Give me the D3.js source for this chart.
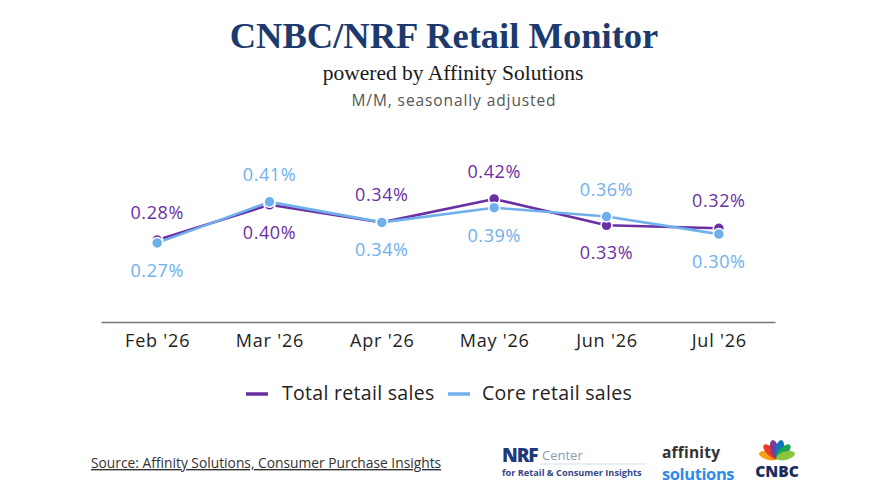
<!DOCTYPE html>
<html><head><meta charset="utf-8">
<script src="https://cdn.jsdelivr.net/npm/d3@7"></script>
<style>
html,body{margin:0;padding:0;background:#fff;}
svg{display:block;}
</style></head>
<body>
<svg id="chart" width="875" height="500"></svg>
<script>
const months = ["Feb '26","Mar '26","Apr '26","May '26","Jun '26","Jul '26"];
const totalSales = [0.28,0.40,0.34,0.42,0.33,0.32];
const coreSales = [0.27,0.41,0.34,0.39,0.36,0.30];
// label placement: 1 = above, -1 = below
const totalLabelPos = [1,-1,1,1,-1,1];
const coreLabelPos = [-1,1,-1,-1,1,-1];
const seriesNames = ["Total retail sales","Core retail sales"];
const colors = ["#6a2fa3","#6fb0ec"];

const svg = d3.select("#chart");
const sans = "'Open Sans', Lato, sans-serif";
const serif = "'Liberation Serif', 'DejaVu Serif', serif";

// Titles
svg.append("text").attr("x",444).attr("y",48).attr("text-anchor","middle")
  .attr("font-family",serif).attr("font-weight","bold").attr("font-size",36.5)
  .attr("fill","#1c3a6e").text("CNBC/NRF Retail Monitor");
svg.append("text").attr("x",453).attr("y",80).attr("text-anchor","middle")
  .attr("font-family",serif).attr("font-size",21.5)
  .attr("fill","#1a1a1a").text("powered by Affinity Solutions");
svg.append("text").attr("x",454).attr("y",106).attr("text-anchor","middle")
  .attr("font-family",sans).attr("font-size",15.5).attr("letter-spacing",0.9)
  .attr("fill","#555").text("M/M, seasonally adjusted");

const x = d3.scalePoint().domain(months).range([101,775]).padding(0.5);
const y = d3.scaleLinear().domain([0,0.5]).range([322,175.5]);

// axis
const xAxis = d3.axisBottom(x).tickSize(0).tickPadding(12);
const gx = svg.append("g").attr("transform","translate(0,322)").call(xAxis);
gx.select(".domain").attr("stroke","#777").attr("stroke-width",1.3);
gx.selectAll("text").attr("font-family",sans).attr("font-size",18)
  .attr("letter-spacing",0.8).attr("fill","#222");

const series = [
  {name:seriesNames[0], values:totalSales, pos:totalLabelPos, color:colors[0]},
  {name:seriesNames[1], values:coreSales, pos:coreLabelPos, color:colors[1]}
];

const line = d3.line().x((d,i)=>x(months[i])).y(d=>y(d));

series.forEach(s=>{
  svg.append("path").datum(s.values).attr("d",line)
    .attr("fill","none").attr("stroke",s.color).attr("stroke-width",2.6)
    .attr("stroke-linejoin","round");
});
series.forEach(s=>{
  svg.append("g").selectAll("circle").data(s.values).join("circle")
    .attr("cx",(d,i)=>x(months[i])).attr("cy",d=>y(d)).attr("r",5.5)
    .attr("fill",s.color).attr("stroke","#fff").attr("stroke-width",1.5);
});
series.forEach(s=>{
  svg.append("g").selectAll("text").data(s.values).join("text")
    .attr("x",(d,i)=>x(months[i]))
    .attr("y",(d,i)=> s.pos[i] > 0 ? y(d)-21 : y(d)+34)
    .attr("text-anchor","middle")
    .attr("font-family",sans).attr("font-size",18).attr("letter-spacing",0.6)
    .attr("fill",s.color).text(d=>d.toFixed(2)+"%");
});

// legend
const legend = [{x:246, tx:282}, {x:448, tx:482}];
series.forEach((s,i)=>{
  svg.append("line").attr("x1",legend[i].x).attr("x2",legend[i].x+22)
    .attr("y1",394).attr("y2",394).attr("stroke",s.color).attr("stroke-width",3.5);
  svg.append("text").attr("x",legend[i].tx).attr("y",400)
    .attr("font-family",sans).attr("font-size",19.5).attr("letter-spacing",0.3)
    .attr("fill","#222").text(s.name);
});

// source
svg.append("text").attr("x",91).attr("y",468)
  .attr("font-family",sans).attr("font-size",13.8).attr("fill","#333")
  .attr("text-decoration","underline").text("Source: Affinity Solutions, Consumer Purchase Insights");

// NRF Center logo
svg.append("text").attr("x",502).attr("y",462).attr("font-family",sans)
  .attr("font-weight","800").attr("font-size",19).attr("fill","#1f3a78").attr("letter-spacing",-1.2).text("NRF");
svg.append("text").attr("x",542).attr("y",460).attr("font-family",sans)
  .attr("font-size",13).attr("fill","#8d9bb8").text("Center");
svg.append("line").attr("x1",540).attr("x2",646).attr("y1",464).attr("y2",464)
  .attr("stroke","#c9d2e6").attr("stroke-width",0.8);
svg.append("text").attr("x",502).attr("y",476).attr("font-family",sans)
  .attr("font-weight","bold").attr("font-size",9.2).attr("fill","#33488a").text("for Retail & Consumer Insights");

// affinity solutions logo
svg.append("text").attr("x",662).attr("y",458).attr("font-family",sans)
  .attr("font-weight","bold").attr("font-size",15.5).attr("fill","#333").attr("letter-spacing",0.2).text("affinity");
svg.append("text").attr("x",662).attr("y",480).attr("font-family",sans)
  .attr("font-weight","bold").attr("font-size",16.5).attr("fill","#2f8be8").attr("letter-spacing",-0.4).text("solutions");

// CNBC peacock
const pcx = 777, pcy = 458;
const angles = [-75,-45,-15,15,45,75];
const fOrder = ["#f6a01a","#ee3b24","#7b3c96","#0d78c1","#1ca64b","#8cc63f"];
angles.forEach((a,i)=>{
  svg.append("ellipse").attr("cx",0).attr("cy",-9).attr("rx",4.2).attr("ry",9.5)
    .attr("fill",fOrder[i])
    .attr("transform",`translate(${pcx},${pcy}) rotate(${a})`);
});
svg.append("text").attr("x",777).attr("y",477).attr("text-anchor","middle").attr("font-family",sans)
  .attr("font-weight","900").attr("font-size",15.5).attr("fill","#1a2b5e").text("CNBC");
</script>
</body></html>
